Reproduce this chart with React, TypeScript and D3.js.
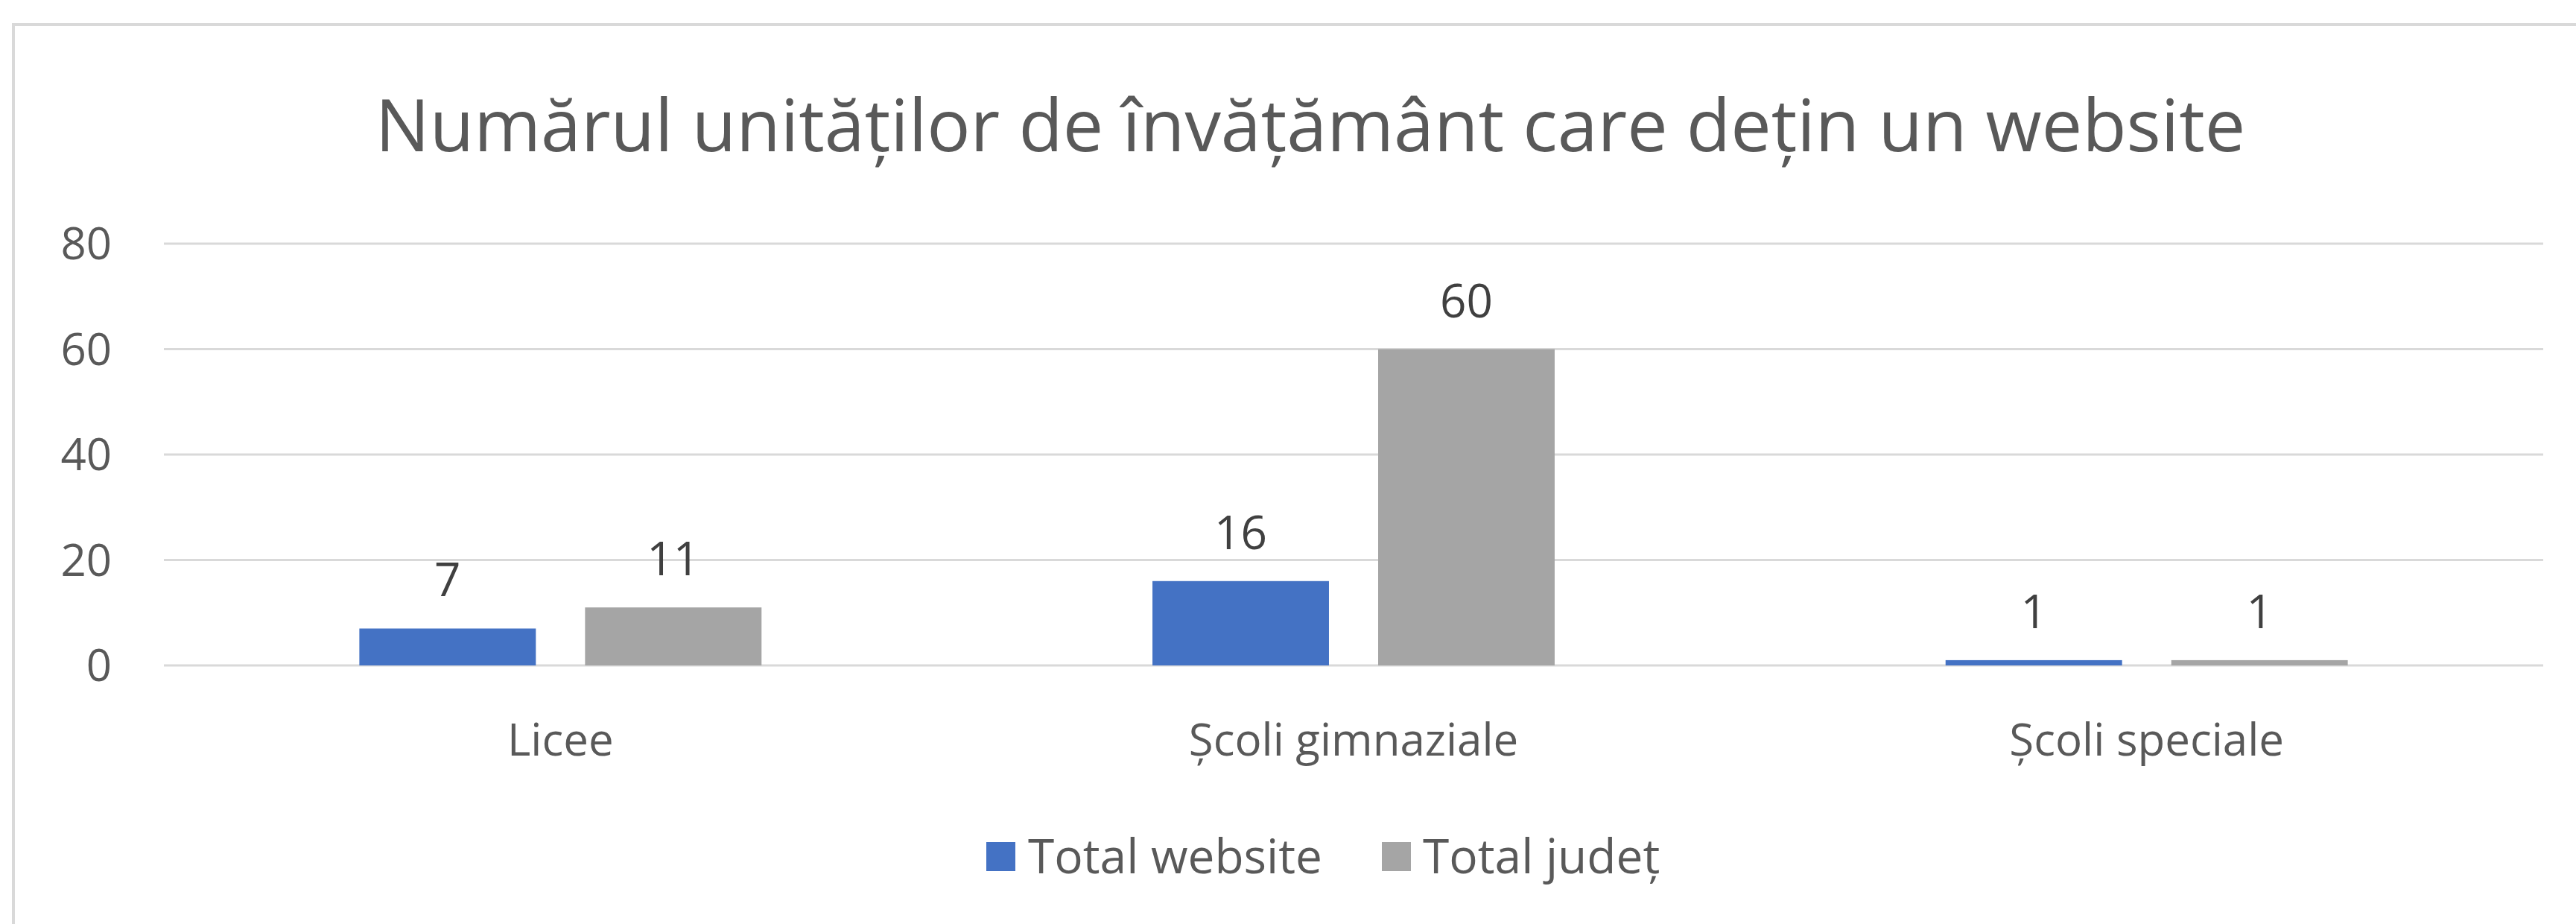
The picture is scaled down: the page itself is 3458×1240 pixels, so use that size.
import React from 'react';
import * as d3 from 'd3';

const title = 'Numărul unităților de învățământ care dețin un website';
const categories = ['Licee', 'Școli gimnaziale', 'Școli speciale'];
const seriesNames = ['Total website', 'Total județ'];
const totalWebsite = [7, 16, 1];
const totalJudet = [11, 60, 1];
const yTicks = [0, 20, 40, 60, 80];
const seriesColors = ['#4472C4', '#A5A5A5'];

const W = 3458;
const H = 1240;
const FONT = '"Open Sans", "Noto Sans", sans-serif';

export default function App() {
  const series = [totalWebsite, totalJudet];
  const plotLeft = 220;
  const plotRight = 3414;
  const y = d3.scaleLinear().domain([0, 80]).range([893, 327]);
  const x = d3.scaleBand<string>().domain(categories).range([plotLeft, plotRight]).padding(0);
  const xs = d3
    .scaleBand<string>()
    .domain(seriesNames)
    .range([0, x.bandwidth()])
    .paddingInner(0.218)
    .paddingOuter(0.866);

  const legendItems = [
    { name: seriesNames[0], sq: 1324, tx: 1380 },
    { name: seriesNames[1], sq: 1855, tx: 1910 },
  ];

  return (
    <svg
      width={W}
      height={H}
      style={{ position: 'absolute', left: 0, top: 0, background: '#ffffff' }}
      fontFamily={FONT}
    >
      <rect x={0} y={0} width={W} height={H} fill="#ffffff" />
      <rect x={18} y={33} width={W} height={H} fill="#ffffff" stroke="#D9D9D9" strokeWidth={4} />
      <text x={1759} y={203} textAnchor="middle" fontSize={97} fill="#595959">
        {title}
      </text>
      {yTicks.map((t) => (
        <g key={t}>
          <line x1={plotLeft} x2={plotRight} y1={y(t)} y2={y(t)} stroke="#D9D9D9" strokeWidth={3} />
          <text x={150} y={y(t) + 21} textAnchor="end" fontSize={60} fill="#595959">
            {t}
          </text>
        </g>
      ))}
      {categories.map((c, ci) => (
        <g key={c}>
          {series.map((vals, si) => {
            const bx = (x(c) as number) + (xs(seriesNames[si]) as number);
            const v = vals[ci];
            return (
              <g key={si}>
                <rect
                  x={bx}
                  y={y(v)}
                  width={xs.bandwidth()}
                  height={y(0) - y(v)}
                  fill={seriesColors[si]}
                />
                <text
                  x={bx + xs.bandwidth() / 2}
                  y={y(v) - 43}
                  textAnchor="middle"
                  fontSize={62}
                  fill="#404040"
                >
                  {v}
                </text>
              </g>
            );
          })}
          <text
            x={(x(c) as number) + x.bandwidth() / 2}
            y={1014}
            textAnchor="middle"
            fontSize={60}
            fill="#595959"
          >
            {c}
          </text>
        </g>
      ))}
      {legendItems.map((it, i) => (
        <g key={it.name}>
          <rect x={it.sq} y={1130} width={39} height={39} fill={seriesColors[i]} />
          <text x={it.tx} y={1172} fontSize={64} fill="#595959">
            {it.name}
          </text>
        </g>
      ))}
    </svg>
  );
}
